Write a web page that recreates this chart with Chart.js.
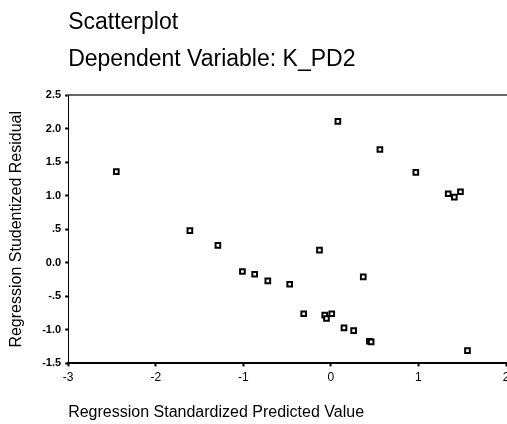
<!DOCTYPE html>
<html>
<head>
<meta charset="utf-8">
<script src="https://cdn.jsdelivr.net/npm/chart.js@4"></script>
<style>
	body { margin: 0; background: #fff; }
	#wrap { width: 507px; height: 424px; }
</style>
</head>
<body>
<div id="wrap"><canvas id="scatterOne"></canvas></div>
<script>
// values
const predicted = [-2.45, -1.61, -1.29, -1.01, -0.87, -0.72, -0.47, -0.31, -0.13, -0.07, -0.05, 0.01,
	0.08, 0.15, 0.26, 0.37, 0.44, 0.46, 0.56, 0.97, 1.34, 1.41, 1.48, 1.56];
const residual = [1.36, 0.48, 0.26, -0.13, -0.17, -0.27, -0.32, -0.76, 0.19, -0.78, -0.83, -0.76,
	2.11, -0.97, -1.01, -0.21, -1.17, -1.18, 1.69, 1.35, 1.03, 0.98, 1.06, -1.31];
const xTickLabels = ['-3', '-2', '-1', '0', '1', '2'];
const yTickLabels = ['-1.5', '-1.0', '-.5', '0.0', '.5', '1.0', '1.5', '2.0', '2.5'];

Chart.defaults.font.family = "'Liberation Sans', Arial, sans-serif";
Chart.defaults.color = '#000';

const ctx1 = document.getElementById('scatterOne');

new Chart(ctx1, {
	type: 'scatter',
	data: {
		datasets: [{
			label: 'K_PD2',
			data: predicted.map((x, i) => ({ x: x, y: residual[i] })),
			xAxisID: 'x',
			yAxisID: 'y',
			pointStyle: 'rect',
			pointRadius: 3.3,
			borderWidth: 2,
			borderColor: '#000',
			backgroundColor: '#fff'
		}]
	},

	options: {
		responsive: true,
		maintainAspectRatio: false,
		animation: false,
		layout: {
			autoPadding: false,
			padding: { right: 1 }
		},
		scales: {
			x: {
				type: 'linear',
				position: 'bottom',
				min: -3,
				max: 2,
				// let the "2" run off the edge like the original
				afterFit: (scale) => { scale.paddingRight = 0; },
				grid: {
					drawOnChartArea: false,
					tickLength: 3,
					tickWidth: 2,
					color: '#000'
				},
				border: { color: '#000', width: 2 },
				ticks: {
					stepSize: 1,
					padding: 4,
					maxRotation: 0,
					font: { size: 12 },
					callback: (v, i) => xTickLabels[i]
				},
				title: {
					display: true,
					text: 'Regression Standardized Predicted Value',
					align: 'start',
					font: { size: 16 },
					padding: { top: 14, bottom: 2 }
				}
			},
			xTop: {
				type: 'linear',
				position: 'top',
				grid: { display: false },
				ticks: { display: false },
				border: { color: '#666', width: 2 }
			},
			y: {
				min: -1.5,
				max: 2.5,
				grid: {
					drawOnChartArea: false,
					tickLength: 3,
					tickWidth: 2,
					color: '#000'
				},
				border: { color: '#000', width: 1 },
				ticks: {
					stepSize: 0.5,
					padding: 4,
					font: { size: 11, weight: 'bold' },
					callback: (v, i) => yTickLabels[i]
				},
				title: {
					display: true,
					text: 'Regression Studentized Residual',
					font: { size: 16 },
					padding: { top: 7, bottom: 12 }
				}
			}
		},
		plugins: {
			legend: { display: false },
			tooltip: { enabled: false },
			title: {
				display: true,
				text: 'Scatterplot',
				align: 'start',
				fullSize: false,
				color: '#000',
				font: { size: 23, weight: 'normal' },
				padding: { top: 9, bottom: 0 }
			},
			subtitle: {
				display: true,
				text: 'Dependent Variable: K_PD2',
				align: 'start',
				fullSize: false,
				color: '#000',
				font: { size: 23, weight: 'normal' },
				padding: { top: 9, bottom: 14 }
			}
		}
	}
});
</script>
</body>
</html>
